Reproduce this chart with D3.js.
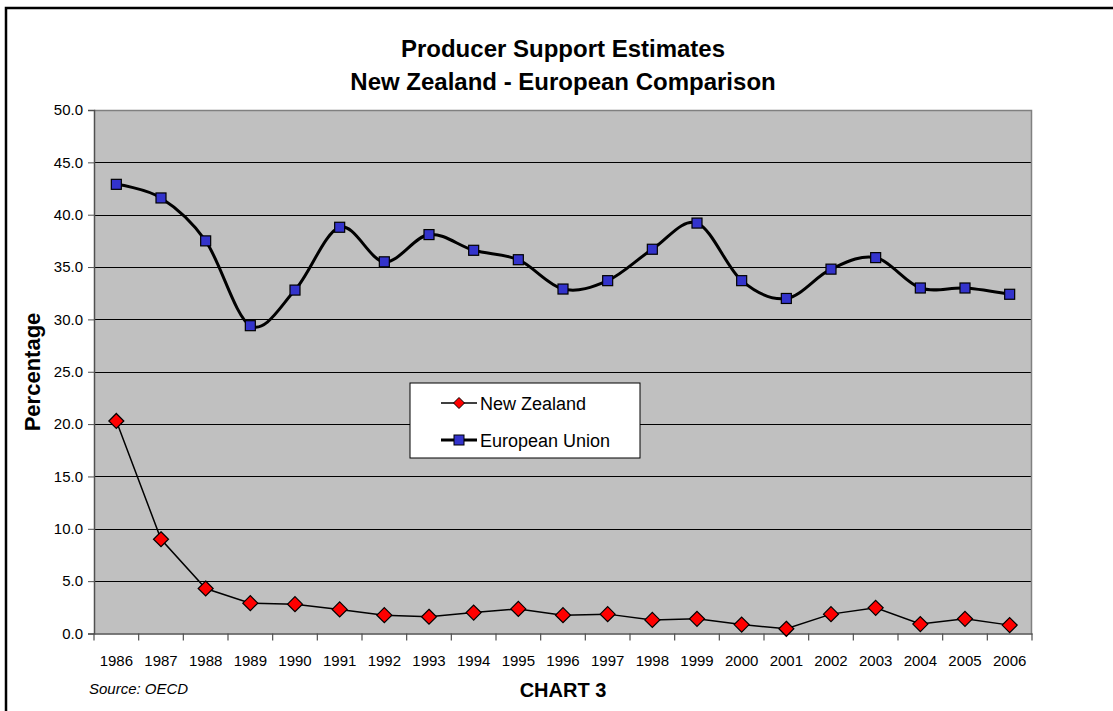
<!DOCTYPE html>
<html>
<head>
<meta charset="utf-8">
<script src="https://cdn.jsdelivr.net/npm/d3@7"></script>
<style>
  html, body { margin: 0; padding: 0; background: #ffffff; }
  svg { display: block; font-family: "Liberation Sans", Arial, sans-serif; }
</style>
</head>
<body>
<svg id="chart" width="1113" height="711"></svg>
<script>
// Producer Support Estimates (% of gross farm receipts), OECD
const years = ["1986","1987","1988","1989","1990","1991","1992","1993","1994","1995","1996",
               "1997","1998","1999","2000","2001","2002","2003","2004","2005","2006"];
const newZealand = [20.3, 9.0, 4.3, 2.9, 2.8, 2.3, 1.75, 1.6, 2.0, 2.35, 1.75,
                    1.85, 1.3, 1.4, 0.85, 0.45, 1.85, 2.45, 0.9, 1.4, 0.8];
const europeanUnion = [42.9, 41.6, 37.5, 29.4, 32.8, 38.8, 35.5, 38.1, 36.6, 35.7, 32.9,
                       33.7, 36.7, 39.2, 33.7, 32.0, 34.8, 35.9, 33.0, 33.0, 32.4];
const yTicks = [0, 5, 10, 15, 20, 25, 30, 35, 40, 45, 50];
const titleLines = ["Producer Support Estimates", "New Zealand - European Comparison"];

const svg = d3.select("#chart");
const W = 1113, H = 711;
const plot = { left: 94, top: 110, right: 1032, bottom: 633.5 };
const FONT = "Liberation Sans, Arial, sans-serif";

// outer chart frame (extends past the visible window on the right and bottom)
svg.append("rect")
  .attr("x", 6).attr("y", 8).attr("width", W + 20).attr("height", H + 20)
  .attr("fill", "#fff").attr("stroke", "#000").attr("stroke-width", 2.5);

const x = d3.scaleBand().domain(years).range([plot.left, plot.right]).padding(0);
const y = d3.scaleLinear().domain([0, 50]).range([plot.bottom, plot.top]);

// plot area background
svg.append("rect")
  .attr("x", plot.left).attr("y", plot.top)
  .attr("width", plot.right - plot.left).attr("height", plot.bottom - plot.top)
  .attr("fill", "#c0c0c0");

// horizontal gridlines
svg.append("g").selectAll("line")
  .data(yTicks.filter(d => d > 0 && d < 50))
  .join("line")
  .attr("x1", plot.left).attr("x2", plot.right)
  .attr("y1", d => Math.round(y(d)) + 0.5).attr("y2", d => Math.round(y(d)) + 0.5)
  .attr("stroke", "#000").attr("stroke-width", 1);

// plot area border (top and right)
svg.append("path")
  .attr("d", `M${plot.left},${plot.top + 0.5}H${plot.right - 0.5}V${plot.bottom}`)
  .attr("fill", "none").attr("stroke", "#808080").attr("stroke-width", 1.5);

// y axis
const yAxis = d3.axisLeft(y).tickValues(yTicks).tickFormat(d3.format(".1f")).tickSize(6).tickPadding(5);
const gy = svg.append("g").attr("transform", `translate(${plot.left},0)`).call(yAxis);
gy.select(".domain").attr("stroke", "#505050").attr("stroke-width", 1.5);
gy.selectAll(".tick line").attr("stroke", "#505050");
gy.selectAll("text").attr("font-size", 15).attr("fill", "#000").attr("font-family", FONT);

// x axis: ticks between categories, labels centred
const xAxis = d3.axisBottom(x).tickSize(0).tickPadding(22);
const gx = svg.append("g").attr("transform", `translate(0,${plot.bottom})`).call(xAxis);
gx.select(".domain").attr("stroke", "#505050").attr("stroke-width", 1.5);
gx.selectAll("text").attr("font-size", 15).attr("fill", "#000").attr("font-family", FONT);
gx.append("g").selectAll("line")
  .data(years.concat(["end"]))
  .join("line")
  .attr("x1", (d, i) => i < years.length ? x(d) : plot.right)
  .attr("x2", (d, i) => i < years.length ? x(d) : plot.right)
  .attr("y1", 0).attr("y2", 7)
  .attr("stroke", "#505050").attr("stroke-width", 1.2);

const cx = d => x(d) + x.bandwidth() / 2;

// European Union: smoothed thick line with square markers
const euLine = d3.line()
  .x((d, i) => cx(years[i]))
  .y(d => y(d))
  .curve(d3.curveCatmullRom.alpha(0));
svg.append("path")
  .datum(europeanUnion)
  .attr("d", euLine)
  .attr("fill", "none").attr("stroke", "#000").attr("stroke-width", 3);

// New Zealand: straight thin line with diamond markers
const nzLine = d3.line()
  .x((d, i) => cx(years[i]))
  .y(d => y(d));
svg.append("path")
  .datum(newZealand)
  .attr("d", nzLine)
  .attr("fill", "none").attr("stroke", "#000").attr("stroke-width", 1.5);

const sq = 10;
svg.append("g").selectAll("rect")
  .data(europeanUnion)
  .join("rect")
  .attr("x", (d, i) => cx(years[i]) - sq / 2)
  .attr("y", d => y(d) - sq / 2)
  .attr("width", sq).attr("height", sq)
  .attr("fill", "#3333cc").attr("stroke", "#000").attr("stroke-width", 1.2);

const dm = 7.5;
const diamond = `M0,${-dm}L${dm},0L0,${dm}L${-dm},0Z`;
svg.append("g").selectAll("path")
  .data(newZealand)
  .join("path")
  .attr("d", diamond)
  .attr("transform", (d, i) => `translate(${cx(years[i])},${y(d)})`)
  .attr("fill", "#ff0000").attr("stroke", "#000").attr("stroke-width", 1.2);

// title
svg.append("g").selectAll("text")
  .data(titleLines)
  .join("text")
  .attr("x", 563).attr("y", (d, i) => 57 + i * 33)
  .attr("text-anchor", "middle")
  .attr("font-size", 24).attr("font-weight", "bold")
  .text(d => d);

// y axis title
svg.append("text")
  .attr("transform", "translate(40,372) rotate(-90)")
  .attr("text-anchor", "middle")
  .attr("font-size", 22).attr("font-weight", "bold")
  .text("Percentage");

// footer
svg.append("text")
  .attr("x", 89).attr("y", 694)
  .attr("font-size", 15).attr("font-style", "italic")
  .text("Source: OECD");
svg.append("text")
  .attr("x", 563).attr("y", 697)
  .attr("text-anchor", "middle")
  .attr("font-size", 20).attr("font-weight", "bold")
  .text("CHART 3");

// legend
const legend = svg.append("g").attr("transform", "translate(410,383)");
legend.append("rect")
  .attr("x", 0).attr("y", 0).attr("width", 230).attr("height", 75)
  .attr("fill", "#fff").attr("stroke", "#000").attr("stroke-width", 1);
const legendItems = [
  { name: "New Zealand", kind: "nz" },
  { name: "European Union", kind: "eu" }
];
const li = legend.selectAll("g.item")
  .data(legendItems)
  .join("g")
  .attr("class", "item")
  .attr("transform", (d, i) => `translate(0,${20 + i * 37})`);
li.append("line")
  .attr("x1", 31).attr("x2", 67).attr("y1", 0).attr("y2", 0)
  .attr("stroke", "#000").attr("stroke-width", d => d.kind === "eu" ? 3 : 1.5);
li.filter(d => d.kind === "nz").append("path")
  .attr("d", `M0,-5.5L5.5,0L0,5.5L-5.5,0Z`)
  .attr("transform", "translate(49,0)")
  .attr("fill", "#ff0000").attr("stroke", "#000").attr("stroke-width", 1);
li.filter(d => d.kind === "eu").append("rect")
  .attr("x", 44).attr("y", -5).attr("width", 10).attr("height", 10)
  .attr("fill", "#3333cc").attr("stroke", "#000").attr("stroke-width", 1);
li.append("text")
  .attr("x", 70).attr("y", 6.5)
  .attr("font-size", 18)
  .text(d => d.name);
</script>
</body>
</html>
